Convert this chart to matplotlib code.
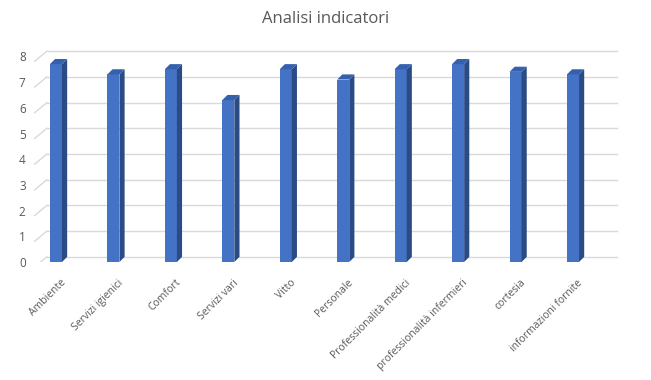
import matplotlib
matplotlib.use("Agg")
import matplotlib.pyplot as plt
from matplotlib.patches import Polygon

# Data
categories = ["Ambiente", "Servizi igienici", "Comfort", "Servizi vari", "Vitto",
              "Personale", "Professionalità medici", "professionalità infermieri",
              "cortesia", "informazioni fornite"]
values = [7.7, 7.3, 7.5, 6.3, 7.5, 7.1, 7.5, 7.7, 7.4, 7.3]
y_ticks = [0, 1, 2, 3, 4, 5, 6, 7, 8]

plt.rcParams['font.family'] = ['Open Sans', 'DejaVu Sans']

front = "#4472C4"
side = "#2B4B85"
top = "#3560AD"
grid_col = "#D9D9D9"
text_col = "#595959"

fig = plt.figure(figsize=(6.51, 3.80), dpi=100)
ax = fig.add_axes([0.033, 0.3105, 0.9266, 0.5816])
ax.set_xlim(-0.6, 9.9)
ax.set_ylim(0, 8.6)

# 3D depth offsets (data units)
dx, dy = 0.09, 0.2
w = 0.21

# back-wall gridlines with a diagonal stub on the side wall
x_left, x_back, x_right = -0.37, -0.16, 9.77
for t in y_ticks:
    ax.plot([x_left, x_back], [t - 0.19, t + dy], color=grid_col, lw=1, zorder=0)
    ax.plot([x_back, x_right], [t + dy, t + dy], color=grid_col, lw=1, zorder=0)

xs = list(range(len(categories)))
ax.bar(xs, values, width=w, color=front, zorder=3)
for x, v in zip(xs, values):
    r = x + w / 2
    l = x - w / 2
    ax.add_patch(Polygon([(r, 0), (r + dx, dy), (r + dx, v + dy), (r, v)],
                         closed=True, facecolor=side, edgecolor='none', zorder=3))
    ax.add_patch(Polygon([(l, v), (r, v), (r + dx, v + dy), (l + dx, v + dy)],
                         closed=True, facecolor=top, edgecolor='none', zorder=3))

# invisible ticks nudged right so the rotated labels end a little past each bar
ax.set_xticks([x + 0.21 for x in xs])
ax.set_xticklabels(categories, rotation=45, ha='right', va='top',
                   fontsize=7.5, color=text_col)
ax.set_yticks(y_ticks)
ax.set_yticklabels([str(t) for t in y_ticks], fontsize=8.5, color=text_col)
ax.tick_params(axis='x', length=0, pad=11)
ax.tick_params(axis='y', length=0, pad=-3)
for s in ax.spines.values():
    s.set_visible(False)

fig.text(0.5, 0.95, "Analisi indicatori", ha='center', va='center',
         fontsize=12, color=text_col)

fig.savefig("out.png", dpi=100)
